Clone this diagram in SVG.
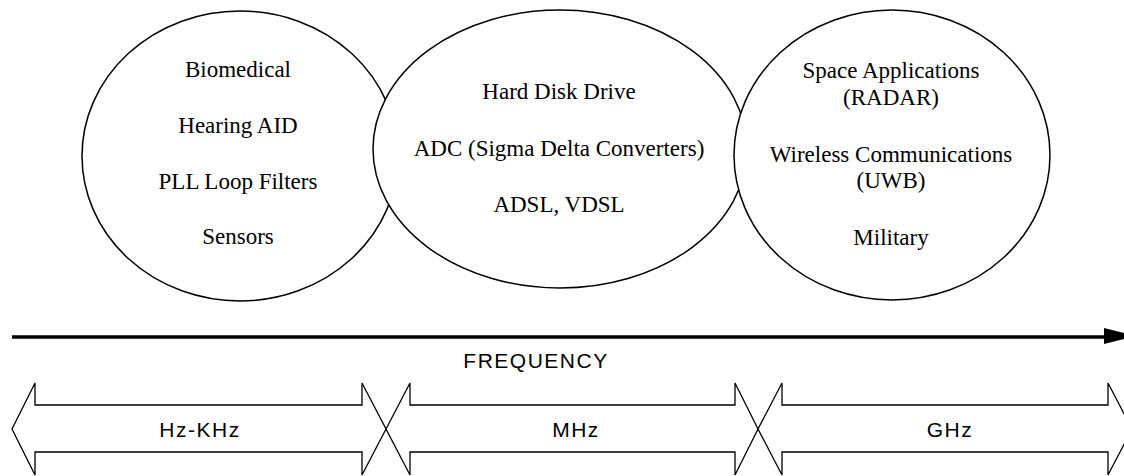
<svg xmlns="http://www.w3.org/2000/svg" width="1124" height="476" viewBox="0 0 1124 476">
  <style>
    .bubble { fill: #ffffff; stroke: #000000; stroke-width: 1.5; }
    .band { fill: #ffffff; stroke: #000000; stroke-width: 1.3; stroke-linejoin: miter; }
    .serif { font-family: "Liberation Serif", "Times New Roman", serif; font-size: 23px; fill: #000000; text-anchor: middle; }
    .sans { font-family: "Liberation Sans", Arial, sans-serif; font-size: 21px; fill: #000000; text-anchor: middle; letter-spacing: 1.5px; }
    .axis { stroke: #000000; stroke-width: 3.5; fill: none; }
  </style>
  <rect x="0" y="0" width="1124" height="476" fill="#ffffff"/>

  <g id="node-low">
    <ellipse class="bubble" cx="240" cy="156" rx="158" ry="145"/>
    <text class="serif" x="238" y="77">Biomedical</text>
    <text class="serif" x="238" y="133">Hearing AID</text>
    <text class="serif" x="238" y="189">PLL Loop Filters</text>
    <text class="serif" x="238" y="244">Sensors</text>
  </g>

  <g id="node-mid">
    <ellipse class="bubble" cx="560" cy="149" rx="187" ry="139"/>
    <text class="serif" x="559" y="99">Hard Disk Drive</text>
    <text class="serif" x="559" y="156">ADC (Sigma Delta Converters)</text>
    <text class="serif" x="559" y="212">ADSL, VDSL</text>
  </g>

  <g id="node-high">
    <ellipse class="bubble" cx="892" cy="155" rx="158" ry="145"/>
    <text class="serif" x="891" y="78">Space Applications</text>
    <text class="serif" x="891" y="105">(RADAR)</text>
    <text class="serif" x="891" y="162">Wireless Communications</text>
    <text class="serif" x="891" y="188">(UWB)</text>
    <text class="serif" x="891" y="245">Military</text>
  </g>

  <g id="connectors">
    <line class="axis" x1="12" y1="337" x2="1106" y2="337"/>
    <polygon points="1104,328 1136,336 1104,344" fill="#000000"/>
  </g>

  <g id="label-frequency">
    <text class="sans" x="536" y="368">FREQUENCY</text>
  </g>

  <g id="band-hz">
    <polygon class="band" points="12,429 35,383 35,405 362,405 362,383 386,429 362,475 362,452 35,452 35,475"/>
    <text class="sans" x="200" y="437">Hz-KHz</text>
  </g>

  <g id="band-mhz">
    <polygon class="band" points="386,429 410,383 410,405 735,405 735,383 758,429 735,475 735,452 410,452 410,475"/>
    <text class="sans" x="576" y="437">MHz</text>
  </g>

  <g id="band-ghz">
    <polygon class="band" points="758,429 782,383 782,405 1108,405 1108,383 1132,429 1108,475 1108,452 782,452 782,475"/>
    <text class="sans" x="950" y="437">GHz</text>
  </g>
</svg>
